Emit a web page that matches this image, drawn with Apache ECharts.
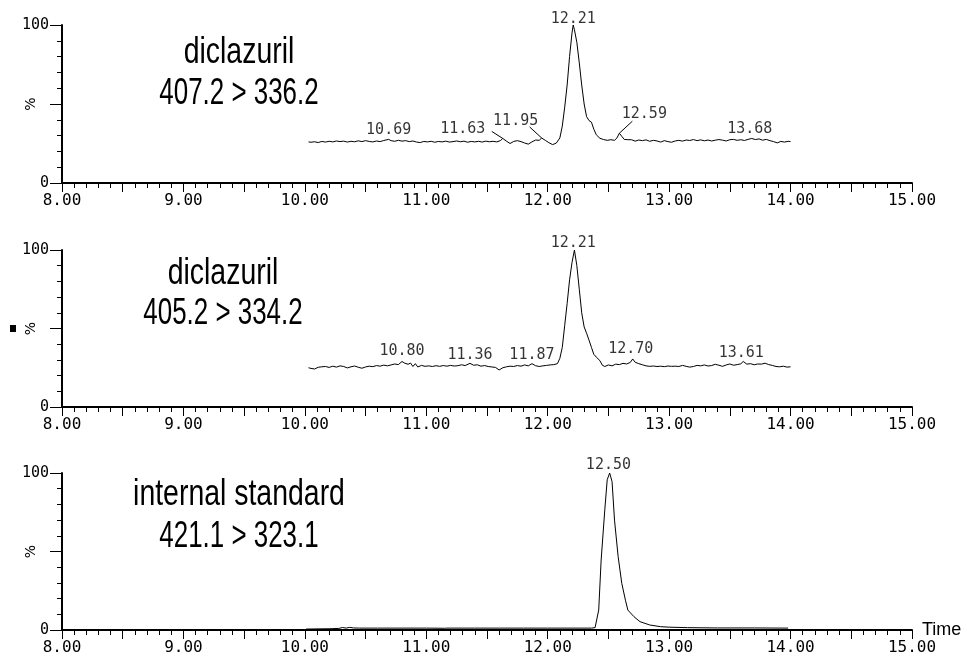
<!DOCTYPE html>
<html><head><meta charset="utf-8">
<script src="https://cdn.jsdelivr.net/npm/echarts@6/dist/echarts.min.js"></script>
<style>html,body{margin:0;padding:0;background:#fff}#c{width:967px;height:656px}</style>
</head><body><div id="c"></div>
<script>
// ---- data ----
const panelTitles = [["diclazuril", "407.2 > 336.2"], ["diclazuril", "405.2 > 334.2"], ["internal standard", "421.1 > 323.1"]];
const timeMin = 8, timeMax = 15;
const pctMin = 0, pctMax = 100;

const trace1 = [[10.03,26.0],[10.05,25.8],[10.08,26.1],[10.11,25.6],[10.14,26.3],[10.17,25.9],[10.20,26.4],[10.23,26.0],[10.26,26.6],[10.29,26.2],[10.32,26.5],[10.35,25.9],[10.38,26.4],[10.41,26.1],[10.44,26.7],[10.47,26.2],[10.50,26.8],[10.53,26.3],[10.56,26.0],[10.59,26.6],[10.62,26.2],[10.65,26.9],[10.69,27.6],[10.71,26.8],[10.74,26.4],[10.77,27.0],[10.80,26.5],[10.83,26.8],[10.86,26.2],[10.89,26.6],[10.92,25.9],[10.95,25.6],[10.98,26.3],[11.01,26.0],[11.04,26.4],[11.07,25.8],[11.10,26.3],[11.13,26.0],[11.16,26.5],[11.19,25.9],[11.22,26.2],[11.25,26.6],[11.28,26.1],[11.31,26.5],[11.34,25.8],[11.37,26.3],[11.40,26.0],[11.43,26.4],[11.46,25.9],[11.49,26.5],[11.52,26.1],[11.55,26.4],[11.58,26.0],[11.61,26.8],[11.63,28.2],[11.66,26.5],[11.69,25.0],[11.72,26.3],[11.75,26.8],[11.78,26.2],[11.81,25.3],[11.84,24.6],[11.87,26.0],[11.90,27.2],[11.93,27.0],[11.95,28.5],[11.98,27.0],[12.01,25.5],[12.04,24.3],[12.07,25.2],[12.10,28.5],[12.12,36],[12.14,48],[12.16,62],[12.18,80],[12.20,95],[12.21,100],[12.22,97],[12.24,89],[12.26,76],[12.28,62],[12.30,50],[12.32,42],[12.34,39.5],[12.36,38.5],[12.38,34],[12.40,30.5],[12.43,28.3],[12.46,27.5],[12.49,27.0],[12.52,27.4],[12.55,27.0],[12.57,28.5],[12.59,31.5],[12.61,29.5],[12.63,27.6],[12.66,27.4],[12.69,27.4],[12.72,26.5],[12.75,27.2],[12.78,26.8],[12.81,27.3],[12.84,26.4],[12.87,27.0],[12.90,26.6],[12.93,25.9],[12.96,26.8],[12.99,26.2],[13.02,25.8],[13.05,26.6],[13.08,27.0],[13.11,26.5],[13.14,27.2],[13.17,26.9],[13.20,27.5],[13.23,26.8],[13.26,27.3],[13.29,26.7],[13.32,27.2],[13.35,26.6],[13.38,27.1],[13.41,27.5],[13.44,27.1],[13.47,26.6],[13.50,27.4],[13.53,27.6],[13.56,27.0],[13.59,27.4],[13.62,26.9],[13.65,27.6],[13.68,28.2],[13.71,27.5],[13.74,27.9],[13.77,27.1],[13.80,27.6],[13.83,26.8],[13.86,26.2],[13.89,25.4],[13.92,26.3],[13.95,25.9],[13.98,26.4],[14.00,26.2]];

const trace2 = [[10.03,25.0],[10.05,24.6],[10.08,24.2],[10.11,25.3],[10.14,25.6],[10.17,25.8],[10.20,25.2],[10.23,26.0],[10.26,25.4],[10.29,26.2],[10.32,25.8],[10.35,24.9],[10.38,25.6],[10.41,26.1],[10.44,25.3],[10.47,24.7],[10.50,25.5],[10.53,26.0],[10.56,25.7],[10.59,26.4],[10.62,26.0],[10.65,26.7],[10.68,26.2],[10.71,26.8],[10.74,27.4],[10.77,27.0],[10.80,29.0],[10.82,28.0],[10.85,27.2],[10.87,28.0],[10.89,25.8],[10.91,27.6],[10.93,25.5],[10.96,26.5],[10.99,25.9],[11.02,26.2],[11.05,25.8],[11.08,26.3],[11.11,25.9],[11.14,26.4],[11.17,26.0],[11.20,26.5],[11.23,26.1],[11.26,26.3],[11.29,26.9],[11.32,26.4],[11.36,27.8],[11.39,26.6],[11.42,26.9],[11.45,26.0],[11.48,26.4],[11.51,25.8],[11.54,25.5],[11.57,25.2],[11.60,23.6],[11.63,25.0],[11.66,25.6],[11.69,26.0],[11.72,25.8],[11.75,26.4],[11.78,26.0],[11.81,26.8],[11.84,26.2],[11.87,27.6],[11.90,26.3],[11.93,25.8],[11.96,26.2],[11.99,26.5],[12.02,26.8],[12.05,27.0],[12.08,27.6],[12.10,31],[12.12,38],[12.14,52],[12.16,66],[12.18,81],[12.20,92],[12.22,100],[12.24,90],[12.26,75],[12.28,60],[12.30,51],[12.32,47],[12.34,42.6],[12.36,38],[12.38,33.5],[12.40,31.8],[12.41,32.8],[12.43,29.5],[12.45,26.6],[12.47,25.8],[12.50,26.8],[12.53,26.2],[12.56,27.3],[12.59,27.0],[12.62,27.8],[12.65,27.4],[12.68,28.4],[12.70,30.6],[12.72,28.5],[12.75,27.6],[12.78,26.9],[12.81,26.2],[12.84,25.9],[12.87,26.1],[12.90,25.8],[12.93,26.0],[12.96,25.7],[12.99,26.1],[13.02,25.9],[13.05,26.0],[13.08,25.8],[13.11,26.5],[13.14,25.9],[13.17,25.4],[13.20,25.8],[13.23,26.5],[13.26,26.2],[13.29,26.8],[13.32,26.1],[13.35,26.4],[13.38,27.2],[13.41,26.6],[13.44,25.9],[13.47,26.8],[13.50,27.4],[13.53,26.6],[13.56,27.0],[13.59,27.5],[13.61,29.0],[13.64,27.3],[13.67,27.6],[13.70,26.9],[13.73,27.4],[13.76,27.3],[13.79,27.9],[13.82,27.0],[13.85,26.5],[13.88,25.8],[13.91,25.6],[13.94,26.0],[13.97,25.4],[14.00,25.6]];

const trace3 = [[10.01,0.6],[10.10,0.7],[10.20,0.8],[10.28,1.0],[10.31,1.6],[10.34,1.2],[10.37,1.7],[10.40,1.3],[10.45,1.2],[10.60,1.2],[10.80,1.2],[11.00,1.2],[11.15,1.1],[11.16,0.8],[11.17,1.2],[11.40,1.2],[11.60,1.2],[11.80,1.2],[12.00,1.2],[12.20,1.2],[12.36,1.2],[12.39,1.5],[12.42,12.7],[12.44,44.6],[12.47,76.5],[12.49,95.7],[12.51,100],[12.53,94.5],[12.55,70],[12.58,46.7],[12.61,29.7],[12.64,19],[12.66,12.7],[12.71,8.5],[12.76,5.3],[12.84,3.2],[12.93,2.1],[13.00,1.8],[13.15,1.5],[13.40,1.3],[13.70,1.3],[13.98,1.2]];

const peakTimes1 = [10.69, 11.63, 11.95, 12.21, 12.59, 13.68];
const peakLevels1 = [27.6, 28.2, 28.5, 100, 31.5, 28.2];
const peakTimes2 = [10.80, 11.36, 11.87, 12.21, 12.70, 13.61];
const peakLevels2 = [29.0, 27.8, 27.6, 100, 30.6, 29.0];
const peakTimes3 = [12.50];
const peakLevels3 = [100];

// ---- layout / style (not data) ----
const labelShift = [
  [[0,-9],[-40,-9],[-26,-17],[0,-6],[25,-19],[-2,-9]],
  [[0,-10],[0,-8],[0,-9],[0,-7],[-2,-10],[-2,-8]],
  [[0,-8]]
];
const leaderStart = [[null,[-11,-7],[-12,-11],null,[13,-12],null],[null,null,null,null,null,null],[null]];
const gridTops = [25, 250, 473];
const gridHeights = [158, 157, 157];
const titleLayout = [
  {x:239, y1:53.5, y2:94.5, s1:0.79, s2:0.72},
  {x:223, y1:274.5, y2:314.5, s1:0.79, s2:0.72},
  {x:239, y1:495.5, y2:537.5, s1:0.79, s2:0.72}
];

const traces = [trace1, trace2, trace3];
const peaks = [[peakTimes1, peakLevels1],[peakTimes2, peakLevels2],[peakTimes3, peakLevels3]];
const mono = 'DejaVu Sans Mono';

const grid = [], xAxis = [], yAxis = [], series = [], graphic = [];
for (let i = 0; i < 3; i++) {
  grid.push({left: 62, width: 850, top: gridTops[i], height: gridHeights[i]});
  xAxis.push({
    type: 'value', gridIndex: i, min: timeMin, max: timeMax, interval: 0.5,
    axisLine: {show: true, onZero: false, lineStyle: {color: '#000', width: 2}},
    axisTick: {show: true, length: 9, lineStyle: {color: '#000', width: 1}},
    minorTick: {show: true, splitNumber: 5, length: 5, lineStyle: {color: '#000', width: 1}},
    splitLine: {show: false}, minorSplitLine: {show: false},
    axisLabel: {formatter: v => Number.isInteger(v) ? v.toFixed(2) : '', margin: 10, color: '#000',
      fontFamily: mono, fontSize: 16, showMinLabel: true, showMaxLabel: true},
    name: i === 2 ? 'Time' : '', nameLocation: 'end', nameGap: 10, nameMoveOverlap: false,
    nameTextStyle: {color: '#000', fontFamily: 'Liberation Sans', fontSize: 18, verticalAlign: 'middle'}
  });
  yAxis.push({
    type: 'value', gridIndex: i, min: pctMin, max: pctMax, interval: 50,
    axisLine: {show: true, onZero: false, lineStyle: {color: '#000', width: 2}},
    axisTick: {show: true, length: 12, lineStyle: {color: '#000', width: 1}},
    minorTick: {show: true, splitNumber: 5, length: 5, lineStyle: {color: '#000', width: 1}},
    splitLine: {show: false}, minorSplitLine: {show: false},
    axisLabel: {formatter: v => (v === pctMin || v === pctMax) ? String(v) : '', margin: 13, color: '#000',
      fontFamily: mono, fontSize: 15},
    name: '%', nameLocation: 'middle', nameRotate: 90, nameGap: 24, nameMoveOverlap: false,
    nameTextStyle: {color: '#000', fontFamily: 'DejaVu Sans', fontSize: 14}
  });
  series.push({
    type: 'line', xAxisIndex: i, yAxisIndex: i, data: traces[i], symbol: 'none',
    lineStyle: {color: '#000', width: 1}, silent: true, animation: false
  });
  const [pt, pl] = peaks[i];
  const shifts = labelShift[i];
  series.push({
    type: 'scatter', xAxisIndex: i, yAxisIndex: i, symbolSize: 1, silent: true, animation: false,
    itemStyle: {color: 'rgba(0,0,0,0)'}, z: 5,
    data: pt.map((t, k) => [t, pl[k]]),
    label: {show: true, position: 'inside', formatter: p => p.value[0].toFixed(2),
      fontFamily: mono, fontSize: 15, color: '#000'},
    labelLayout: p => ({dx: shifts[p.dataIndex][0], dy: shifts[p.dataIndex][1]})
  });
  const tl = titleLayout[i];
  graphic.push({type: 'text', x: tl.x, y: tl.y1, scaleX: tl.s1, silent: true,
    style: {text: panelTitles[i][0], font: '36px "Liberation Sans"', align: 'center', verticalAlign: 'middle', fill: '#000'}});
  graphic.push({type: 'text', x: tl.x, y: tl.y2, scaleX: tl.s2, silent: true,
    style: {text: panelTitles[i][1], font: '36px "Liberation Sans"', align: 'center', verticalAlign: 'middle', fill: '#000'}});
}
graphic.push({type: 'rect', shape: {x: 10, y: 325, width: 6, height: 7}, style: {fill: '#000'}, silent: true});

const chart = echarts.init(document.getElementById('c'), null, {renderer: 'canvas'});
chart.setOption({animation: false, backgroundColor: '#fff', grid, xAxis, yAxis, series, graphic});

// leader lines from each annotated peak (positioned through the library's own scales)
const leaders = [];
for (let i = 0; i < 3; i++) {
  const [pt, pl] = peaks[i];
  pt.forEach((t, k) => {
    const L = leaderStart[i][k];
    if (!L) return;
    const [px, py] = chart.convertToPixel({xAxisIndex: i, yAxisIndex: i}, [t, pl[k]]);
    leaders.push({type: 'line', silent: true, z: 10,
      shape: {x1: px + L[0], y1: py + L[1], x2: px, y2: py},
      style: {stroke: '#000', lineWidth: 1}});
  });
}
chart.setOption({graphic: graphic.concat(leaders)});
</script></body></html>
